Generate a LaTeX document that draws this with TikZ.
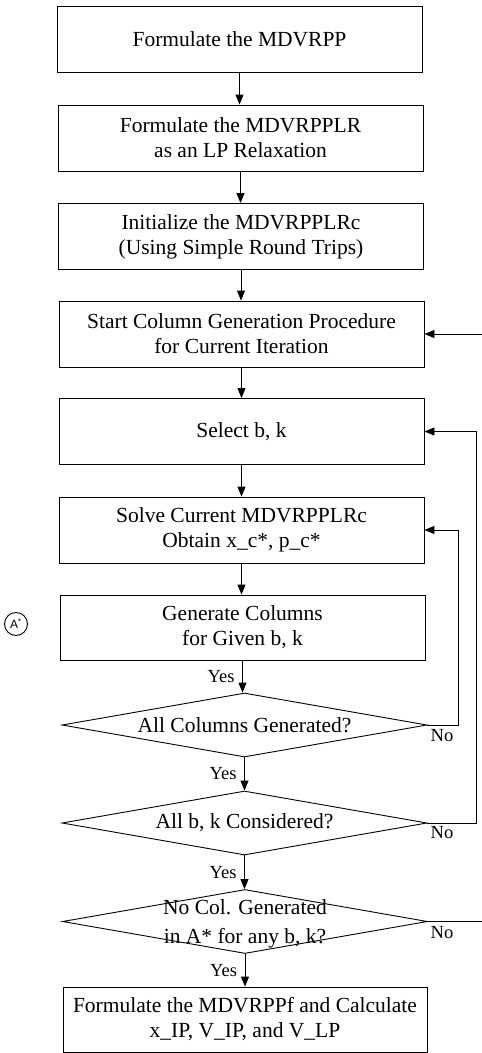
\documentclass[tikz,border=0pt]{standalone}
\usepackage{fontspec}
\setmainfont{Liberation Serif}
\newfontfamily\asf{Liberation Sans}
\usetikzlibrary{shapes.geometric,arrows.meta}
\begin{document}
\begin{tikzpicture}[x=1pt,y=-1pt,
 box/.style={draw, line width=0.9pt, minimum width=365pt, minimum height=66pt, inner sep=2pt, align=center, font=\fontsize{21.5}{25}\selectfont},
 dia/.style={draw, diamond, line width=0.9pt, minimum width=365pt, minimum height=64pt, inner sep=0pt},
 dtext/.style={font=\fontsize{21.5}{29}\selectfont, align=center},
 lab/.style={font=\fontsize{18.5}{20}\selectfont, inner sep=1.5pt},
 arr/.style={-{Triangle[length=10pt,width=8pt]}, line width=0.9pt}]
\useasboundingbox (0,0) rectangle (482,1053);
\node[box] (b1) at (239.5,39) {Formulate the MDVRPP};
\node[box] (b2) at (240.5,138) {Formulate the MDVRPPLR\\as an LP Relaxation};
\node[box] (b3) at (241,236.5) {Initialize the MDVRPPLRc\\(Using Simple Round Trips)};
\node[box] (b4) at (241.5,334) {Start Column Generation Procedure\\for Current Iteration};
\node[box] (b5) at (241.5,431.5) {Select b, k};
\node[box] (b6) at (241.5,530) {Solve Current MDVRPPLRc\\Obtain x\_c*, p\_c*};
\node[box, minimum height=65pt] (b7) at (242.5,627.5) {Generate Columns\\for Given b, k};
\node[dia, label={[dtext]center:{All Columns Generated?}}] (d1) at (244.5,725) {};
\node[dia, label={[dtext]center:{All b, k Considered?}}] (d2) at (244.5,823) {};
\node[dia, label={[dtext, yshift=-2pt]center:{No Col. Generated\\in A* for any b, k?}}] (d3) at (245,921.5) {};
\node[box, minimum height=65pt, minimum width=364pt] (f) at (245,1019.5) {Formulate the MDVRPPf and Calculate\\x\_IP, V\_IP, and V\_LP};
\node[draw, circle, minimum size=23pt, inner sep=0pt, line width=0.9pt, font=\asf\fontsize{12}{13}\selectfont] (astar) at (16,624) {A\textsuperscript{*}};

\draw[arr] (b1.south) -- (b1.south |- b2.north);
\draw[arr] (b2.south) -- (b2.south |- b3.north);
\draw[arr] (b3.south) -- (b3.south |- b4.north);
\draw[arr] (b4.south) -- (b4.south |- b5.north);
\draw[arr] (b5.south) -- (b5.south |- b6.north);
\draw[arr] (b6.south) -- (b6.south |- b7.north);
\draw[arr] (b7.south) -- node[lab, left=6pt] {Yes} (b7.south |- d1.north);
\draw[arr] (d1.south) -- node[lab, left=6pt] {Yes} (d1.south |- d2.north);
\draw[arr] (d2.south) -- node[lab, left=6pt] {Yes} (d2.south |- d3.north);
\draw[arr] (d3.south) -- node[lab, left=6pt] {Yes} (d3.south |- f.north);

\draw[arr] (d1.east) -- ++(31,0) |- (b6.east);
\draw[arr] (d2.east) -- ++(49,0) |- (b5.east);
\draw[arr] (d3.east) -- ++(70,0) |- (b4.east);
\node[lab] (n1) at (442,736) {No};
\node[lab] (n2) at (442,833) {No};
\node[lab] (n3) at (442,933) {No};
\end{tikzpicture}
\end{document}
